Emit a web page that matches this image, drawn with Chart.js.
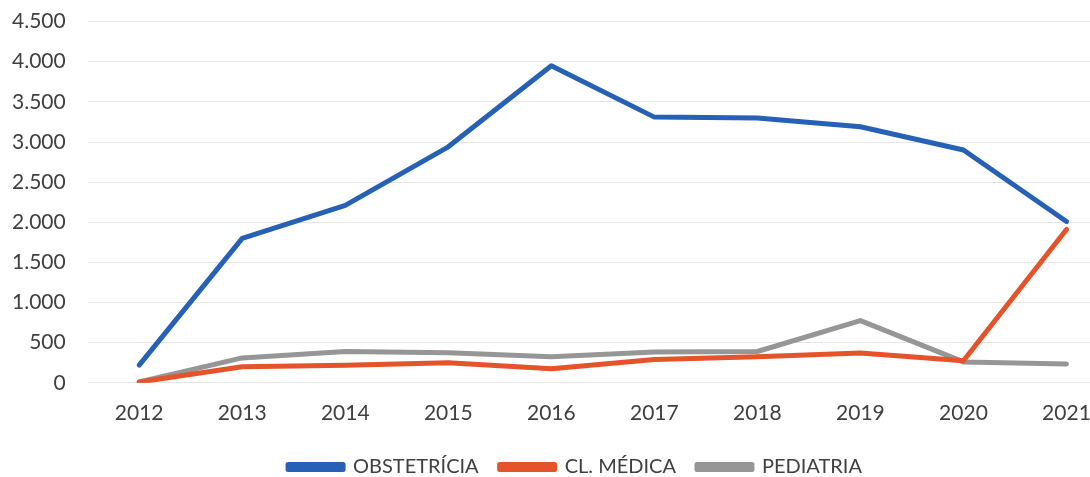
<!DOCTYPE html>
<html>
<head>
<meta charset="utf-8">
<script src="https://cdn.jsdelivr.net/npm/chart.js@4/dist/chart.umd.min.js"></script>
<style>
  html, body { margin: 0; padding: 0; background: #fff; overflow: hidden; }
  #wrap { width: 1090px; height: 477px; overflow: hidden; }
  #box { width: 1134px; height: 500px; margin-left: -16px; margin-top: -13px; }
</style>
</head>
<body>
<div id="wrap"><div id="box"><canvas id="lineChart"></canvas></div></div>
<script>
const years = ['2012', '2013', '2014', '2015', '2016', '2017', '2018', '2019', '2020', '2021'];
const obstetricia = [220, 1800, 2210, 2940, 3950, 3310, 3300, 3190, 2900, 2010];
const clMedica = [10, 200, 220, 250, 175, 290, 325, 370, 275, 1910];
const pediatria = [10, 310, 390, 375, 325, 385, 390, 775, 260, 235];

function fmtNum(v) {
    return String(v).replace(/\B(?=(\d{3})+(?!\d))/g, '.');
}

// legend sits a bit right of centre in the original
const shiftLegend = {
    id: 'shiftLegend',
    afterLayout: function (chart) {
        if (chart.legend) {
            chart.legend.left += 21;
            chart.legend.right += 21;
        }
    }
};

document.addEventListener('DOMContentLoaded', function () {
    const ctx = document.getElementById('lineChart').getContext('2d');
    const base = { fill: false, borderWidth: 5, pointRadius: 0, tension: 0, borderCapStyle: 'round', borderJoinStyle: 'round' };
    new Chart(ctx, {
        type: 'line',
        data: {
            labels: years,
            datasets: [
                Object.assign({ label: 'OBSTETRÍCIA', data: obstetricia, borderColor: '#2761B6', backgroundColor: '#2761B6' }, base),
                Object.assign({ label: 'CL. MÉDICA', data: clMedica, borderColor: '#E5532B', backgroundColor: '#E5532B' }, base),
                Object.assign({ label: 'PEDIATRIA', data: pediatria, borderColor: '#969696', backgroundColor: '#969696' }, base)
            ]
        },
        options: {
            responsive: true,
            maintainAspectRatio: false,
            animation: false,
            layout: { padding: { left: 6, right: 0, top: 0, bottom: 0 } },
            plugins: {
                legend: {
                    position: 'bottom',
                    labels: {
                        boxWidth: 55,
                        boxHeight: 5,
                        padding: 21,
                        color: '#404040',
                        font: { family: 'Lato', size: 20 }
                    }
                },
                tooltip: { enabled: false }
            },
            scales: {
                x: {
                    offset: true,
                    grid: { display: false },
                    border: { display: false },
                    ticks: { color: '#404040', padding: 10, font: { family: 'Lato', size: 21 } }
                },
                y: {
                    min: 0,
                    max: 4500,
                    ticks: {
                        stepSize: 500,
                        padding: 22,
                        color: '#404040',
                        font: { family: 'Lato', size: 21 },
                        callback: function (value) { return fmtNum(value); }
                    },
                    grid: { color: '#E6E6E6', lineWidth: 1, drawTicks: false },
                    border: { display: false }
                }
            }
        },
        plugins: [shiftLegend]
    });
});
</script>
</body>
</html>
